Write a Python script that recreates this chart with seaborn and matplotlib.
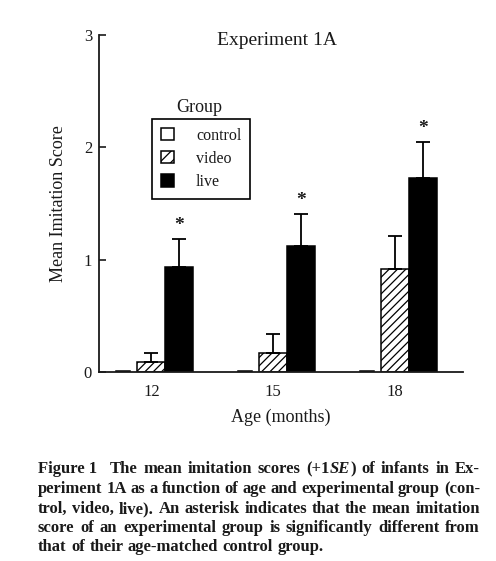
import matplotlib
matplotlib.use("Agg")
import matplotlib.pyplot as plt
from matplotlib.patches import Patch
import seaborn as sns
import pandas as pd

# values
ages = ["12", "15", "18"]
groups = ["control", "video", "live"]
control_mean = [0.01, 0.01, 0.01]
video_mean = [0.09, 0.17, 0.92]
live_mean = [0.93, 1.12, 1.73]
control_se = [0.0, 0.0, 0.0]
video_se = [0.08, 0.17, 0.29]
live_se = [0.25, 0.29, 0.32]
live_signif = [True, True, True]

caption_lines = [
    [[("Figure 1", "normal")], [("The", "normal")], [("mean", "normal")], [("imitation", "normal")],
     [("scores", "normal")], [("(+1", "normal"), ("SE", "italic"), (")", "normal")],
     [("of", "normal")], [("infants", "normal")], [("in", "normal")], [("Ex-", "normal")]],
    "periment 1A as a function of age and experimental group (con-",
    "trol, video, live). An asterisk indicates that the mean imitation",
    "score of an experimental group is significantly different from",
    "that of their age-matched control group.",
]

means = {"control": control_mean, "video": video_mean, "live": live_mean}
ses = {"control": control_se, "video": video_se, "live": live_se}
df = pd.DataFrame({
    "age": ages * 3,
    "group": [g for g in groups for _ in ages],
    "score": control_mean + video_mean + live_mean,
})

sns.set_style("ticks")
plt.rcParams["font.family"] = ["Liberation Serif", "DejaVu Serif"]
plt.rcParams["hatch.linewidth"] = 0.9
ink = "#1a1a1a"

fig = plt.figure(figsize=(4.96, 5.61), dpi=100)
ax = fig.add_axes([0.1996, 0.337, 0.7339, 0.6007])

sns.barplot(data=df, x="age", y="score", hue="group", order=ages, hue_order=groups,
            palette={"control": "white", "video": "white", "live": "black"},
            edgecolor="black", linewidth=1.1, width=0.69, errorbar=None,
            legend=False, ax=ax)

for grp, cont in zip(groups, ax.containers):
    for i, bar in enumerate(cont):
        if grp == "video":
            bar.set_hatch("////")
        if grp == "control":
            w = bar.get_width()
            bar.set_x(bar.get_x() + w * 0.25)
            bar.set_width(w * 0.5)
        xc = bar.get_x() + bar.get_width() / 2
        h = means[grp][i]
        se = ses[grp][i]
        if se > 0:
            ax.errorbar(xc, h, yerr=[[0], [se]], fmt="none", ecolor="black",
                        elinewidth=1.3, capsize=5, capthick=1.3, zorder=1)
        if grp == "live" and live_signif[i]:
            ax.text(xc, h + se + 0.12, "*", ha="center", va="center",
                    fontsize=14, fontweight="bold", color=ink)

ax.set_xlim(-0.43, 2.56)
ax.set_ylim(0, 3)
ax.set_yticks([0, 1, 2, 3])
ax.tick_params(axis="y", direction="in", length=5, width=1.2, pad=5,
               labelsize=12, colors=ink)
ax.tick_params(axis="x", length=0, pad=9, labelsize=12, colors=ink)
sns.despine(ax=ax)
for side in ["left", "bottom"]:
    ax.spines[side].set_linewidth(1.3)
    ax.spines[side].set_color(ink)

ax.set_xlabel("Age (months)", fontsize=13, color=ink, labelpad=6)
ax.set_ylabel("Mean Imitation Score", fontsize=13, color=ink, labelpad=12)
ax.text(0.49, 0.985, "Experiment 1A", transform=ax.transAxes, ha="center",
        va="center", fontsize=14, color=ink)

handles = [
    Patch(facecolor="white", edgecolor="black", linewidth=1.1),
    Patch(facecolor="white", edgecolor="black", linewidth=1.1, hatch="///"),
    Patch(facecolor="black", edgecolor="black", linewidth=1.1),
]
leg = ax.legend(handles, groups, loc="upper left", bbox_to_anchor=(0.1456, 0.7507),
                borderaxespad=0, fontsize=11.5, frameon=True, fancybox=False,
                framealpha=1, edgecolor="black", handlelength=0.8, handleheight=0.8,
                handletextpad=1.4, labelspacing=0.45, borderpad=0.55)
leg.get_frame().set_linewidth(1.2)
for t in leg.get_texts():
    t.set_color(ink)
ax.text(0.2747, 0.7834, "Group", transform=ax.transAxes, ha="center",
        va="center", fontsize=13, color=ink)

# caption, justified like the printed page
renderer = fig.canvas.get_renderer()
cap_kw = dict(fontsize=12, fontweight="bold", color=ink)
fig_w = fig.bbox.width
x_left, x_right = 38, 480
baselines = [473, 493, 513, 532, 551]


def seg_width(s, style):
    t = fig.text(0, 0, s, fontstyle=style, **cap_kw)
    w = t.get_window_extent(renderer).width
    t.remove()
    return w


for n, line in enumerate(caption_lines):
    if isinstance(line, str):
        tokens = [[(word, "normal")] for word in line.split(" ")]
    else:
        tokens = line
    widths = [sum(seg_width(s, st) for s, st in tok) for tok in tokens]
    gap_weights = [1.0] * (len(tokens) - 1)
    if n == 0:
        gap_weights[0] = 2.2
    if n < len(caption_lines) - 1:
        unit = (x_right - x_left - sum(widths)) / sum(gap_weights)
    else:
        unit = cap_kw["fontsize"] * 100 / 72 * 0.27
    y = 1 - baselines[n] / 561
    x = x_left
    for k, tok in enumerate(tokens):
        xs = x
        for s, st in tok:
            fig.text(xs / fig_w, y, s, fontstyle=st, ha="left", va="baseline", **cap_kw)
            xs += seg_width(s, st)
        x += widths[k]
        if k < len(gap_weights):
            x += unit * gap_weights[k]

fig.savefig("out.png", dpi=100)
